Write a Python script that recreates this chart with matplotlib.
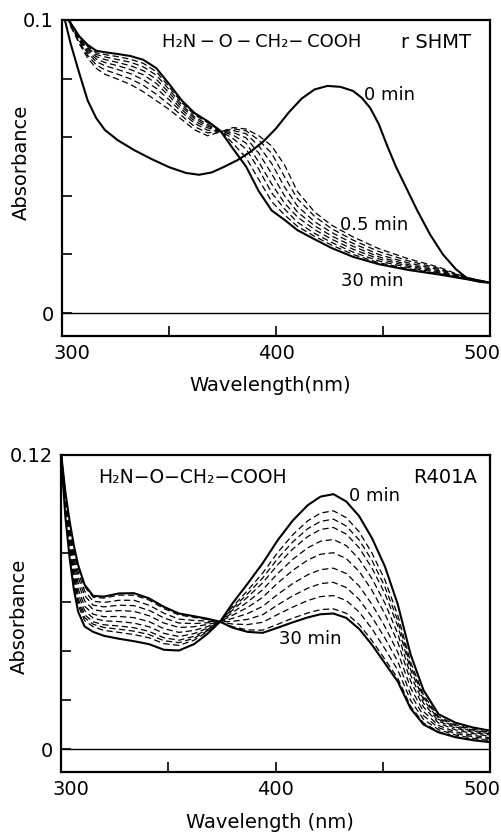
import matplotlib.pyplot as plt
from matplotlib.transforms import ScaledTranslation

plt.rcParams['font.family'] = ['DejaVu Sans']

# ---- upper panel: r SHMT (wavelength grid in nm) ----
top_wl = [301, 304, 308, 312, 316, 320, 326, 332, 338, 344, 350, 356, 362, 368, 374,
          380, 386, 392, 398, 404, 410, 418, 426, 436, 448, 462, 476, 488, 499]

# 0 min spectrum has its own grid
top_wl_0 = [301, 304, 308, 312, 316, 320, 326, 334, 342, 350, 358, 364, 370, 376, 382,
            388, 394, 400, 406, 412, 418, 424, 430, 436, 440, 444, 448, 452, 456, 460,
            466, 472, 478, 484, 490, 495, 499]
top_0min = [0.101, 0.092, 0.082, 0.0725, 0.0665, 0.0625, 0.0590, 0.0555, 0.0525, 0.0498,
            0.0478, 0.0472, 0.0480, 0.0500, 0.0522, 0.0550, 0.0585, 0.0630, 0.0685, 0.0732,
            0.0763, 0.0775, 0.0772, 0.0758, 0.0735, 0.0700, 0.0645, 0.0570, 0.0500, 0.0440,
            0.0350, 0.0268, 0.0200, 0.0150, 0.0115, 0.0107, 0.0104]

top_30min = [0.106, 0.099, 0.0945, 0.0915, 0.0895, 0.0890, 0.0884, 0.0877, 0.0864, 0.0836,
             0.0782, 0.0725, 0.0682, 0.0655, 0.0622, 0.0560, 0.0500, 0.0415, 0.0350, 0.0318,
             0.0283, 0.0252, 0.0222, 0.0192, 0.0167, 0.0147, 0.0132, 0.0117, 0.0105]

# dashed traces, 0.5 min first
top_dashed = [
    [0.104, 0.098, 0.092, 0.087, 0.0835, 0.0815, 0.0798, 0.0780, 0.0755, 0.0725,
     0.0695, 0.0660, 0.0625, 0.0605, 0.0618, 0.0633, 0.0628, 0.0605, 0.0570, 0.0505,
     0.0415, 0.0345, 0.0300, 0.0260, 0.0220, 0.0185, 0.0157, 0.0124, 0.0106],
    [0.104, 0.098, 0.0925, 0.0879, 0.0847, 0.0830, 0.0815, 0.0799, 0.0777, 0.0747,
     0.0712, 0.0673, 0.0636, 0.0615, 0.0619, 0.0629, 0.0622, 0.0590, 0.0545, 0.0465,
     0.0390, 0.0330, 0.0288, 0.0249, 0.0210, 0.0178, 0.0153, 0.0123, 0.0106],
    [0.105, 0.098, 0.0930, 0.0887, 0.0858, 0.0844, 0.0831, 0.0817, 0.0796, 0.0767,
     0.0728, 0.0685, 0.0647, 0.0624, 0.0620, 0.0623, 0.0612, 0.0570, 0.0510, 0.0430,
     0.0365, 0.0312, 0.0275, 0.0238, 0.0200, 0.0171, 0.0149, 0.0122, 0.0106],
    [0.105, 0.099, 0.0933, 0.0894, 0.0867, 0.0855, 0.0844, 0.0831, 0.0813, 0.0784,
     0.0741, 0.0694, 0.0655, 0.0632, 0.0620, 0.0616, 0.0598, 0.0545, 0.0475, 0.0400,
     0.0345, 0.0298, 0.0263, 0.0228, 0.0192, 0.0165, 0.0145, 0.0121, 0.0106],
    [0.105, 0.099, 0.0936, 0.0900, 0.0875, 0.0865, 0.0855, 0.0844, 0.0827, 0.0798,
     0.0752, 0.0703, 0.0663, 0.0638, 0.0621, 0.0607, 0.0580, 0.0515, 0.0440, 0.0375,
     0.0328, 0.0285, 0.0252, 0.0218, 0.0185, 0.0160, 0.0141, 0.0120, 0.0105],
    [0.105, 0.099, 0.0939, 0.0905, 0.0882, 0.0874, 0.0865, 0.0856, 0.0840, 0.0812,
     0.0763, 0.0711, 0.0669, 0.0644, 0.0621, 0.0595, 0.0560, 0.0490, 0.0410, 0.0355,
     0.0310, 0.0272, 0.0241, 0.0208, 0.0178, 0.0155, 0.0138, 0.0119, 0.0105],
    [0.106, 0.099, 0.0942, 0.0910, 0.0888, 0.0882, 0.0875, 0.0866, 0.0852, 0.0824,
     0.0772, 0.0718, 0.0676, 0.0650, 0.0622, 0.0578, 0.0530, 0.0455, 0.0380, 0.0335,
     0.0296, 0.0262, 0.0232, 0.0200, 0.0172, 0.0151, 0.0135, 0.0118, 0.0105],
]

# ---- lower panel: R401A ----
bot_wl = [300, 302, 304, 306, 308, 311, 315, 320, 327, 334, 341, 348, 355, 362, 368,
          374, 380, 387, 394, 401, 408, 415, 421, 427, 433, 439, 445, 451, 457, 463,
          469, 476, 484, 492, 500]

bot_0min = [0.121, 0.095, 0.078, 0.065, 0.056, 0.0500, 0.0478, 0.0462, 0.0450, 0.0440,
            0.0428, 0.0405, 0.0402, 0.0428, 0.0468, 0.0518, 0.0595, 0.0675, 0.0758, 0.0852,
            0.0932, 0.0995, 0.1030, 0.1040, 0.1010, 0.0950, 0.0860, 0.0745, 0.0590, 0.0385,
            0.0240, 0.0142, 0.0107, 0.0088, 0.0075]

bot_30min = [0.121, 0.105, 0.093, 0.083, 0.075, 0.067, 0.0625, 0.0622, 0.0635, 0.0636,
             0.0615, 0.0580, 0.0553, 0.0542, 0.0532, 0.0520, 0.0495, 0.0478, 0.0474, 0.0495,
             0.0517, 0.0537, 0.0550, 0.0553, 0.0535, 0.0490, 0.0425, 0.0350, 0.0275, 0.0165,
             0.0100, 0.0068, 0.0048, 0.0036, 0.0028]

bot_dashed = [
    [0.121, 0.0964, 0.0801, 0.0675, 0.0587, 0.0524, 0.0499, 0.0484, 0.0476, 0.0467,
     0.0454, 0.0430, 0.0423, 0.0444, 0.0477, 0.0519, 0.0581, 0.0647, 0.0718, 0.0802,
     0.0874, 0.0931, 0.0963, 0.0972, 0.0944, 0.0886, 0.0799, 0.0690, 0.0546, 0.0354,
     0.0220, 0.0132, 0.0099, 0.0081, 0.0068],
    [0.121, 0.0971, 0.0812, 0.0688, 0.0600, 0.0536, 0.0509, 0.0496, 0.0489, 0.0481,
     0.0467, 0.0442, 0.0434, 0.0452, 0.0481, 0.0519, 0.0574, 0.0634, 0.0698, 0.0777,
     0.0845, 0.0899, 0.0929, 0.0938, 0.0910, 0.0853, 0.0769, 0.0662, 0.0524, 0.0339,
     0.0211, 0.0126, 0.0095, 0.0077, 0.0065],
    [0.121, 0.0978, 0.0822, 0.0700, 0.0613, 0.0548, 0.0519, 0.0507, 0.0502, 0.0495,
     0.0480, 0.0454, 0.0444, 0.0460, 0.0486, 0.0519, 0.0567, 0.0620, 0.0678, 0.0752,
     0.0816, 0.0867, 0.0896, 0.0904, 0.0877, 0.0821, 0.0738, 0.0634, 0.0502, 0.0323,
     0.0201, 0.0121, 0.0090, 0.0073, 0.0062],
    [0.121, 0.0988, 0.0837, 0.0718, 0.0632, 0.0565, 0.0534, 0.0523, 0.0520, 0.0514,
     0.0499, 0.0472, 0.0459, 0.0471, 0.0492, 0.0519, 0.0557, 0.0600, 0.0650, 0.0716,
     0.0774, 0.0821, 0.0848, 0.0855, 0.0830, 0.0775, 0.0695, 0.0595, 0.0470, 0.0301,
     0.0187, 0.0114, 0.0085, 0.0068, 0.0057],
    [0.121, 0.0999, 0.0854, 0.0738, 0.0653, 0.0583, 0.0550, 0.0540, 0.0541, 0.0536,
     0.0520, 0.0491, 0.0476, 0.0484, 0.0499, 0.0519, 0.0546, 0.0578, 0.0619, 0.0677,
     0.0729, 0.0771, 0.0795, 0.0801, 0.0777, 0.0725, 0.0647, 0.0551, 0.0436, 0.0277,
     0.0171, 0.0106, 0.0078, 0.0063, 0.0052],
    [0.121, 0.1012, 0.0873, 0.0762, 0.0678, 0.0605, 0.0569, 0.0561, 0.0565, 0.0562,
     0.0544, 0.0514, 0.0496, 0.0499, 0.0508, 0.0519, 0.0533, 0.0553, 0.0582, 0.0631,
     0.0675, 0.0711, 0.0732, 0.0738, 0.0716, 0.0665, 0.0590, 0.0500, 0.0395, 0.0249,
     0.0153, 0.0096, 0.0070, 0.0056, 0.0046],
    [0.121, 0.1024, 0.0891, 0.0783, 0.0701, 0.0626, 0.0587, 0.0580, 0.0587, 0.0585,
     0.0566, 0.0535, 0.0514, 0.0512, 0.0515, 0.0519, 0.0521, 0.0529, 0.0548, 0.0588,
     0.0625, 0.0656, 0.0675, 0.0680, 0.0659, 0.0610, 0.0538, 0.0453, 0.0357, 0.0222,
     0.0136, 0.0087, 0.0063, 0.0050, 0.0040],
    [0.121, 0.1035, 0.0908, 0.0803, 0.0722, 0.0645, 0.0603, 0.0598, 0.0607, 0.0607,
     0.0587, 0.0554, 0.0530, 0.0525, 0.0522, 0.0519, 0.0510, 0.0508, 0.0517, 0.0549,
     0.0579, 0.0606, 0.0622, 0.0626, 0.0606, 0.0559, 0.0490, 0.0409, 0.0322, 0.0198,
     0.0121, 0.0079, 0.0057, 0.0044, 0.0035],
    [0.121, 0.1046, 0.0924, 0.0823, 0.0742, 0.0663, 0.0619, 0.0616, 0.0628, 0.0628,
     0.0608, 0.0573, 0.0547, 0.0537, 0.0529, 0.0519, 0.0499, 0.0486, 0.0485, 0.0509,
     0.0534, 0.0555, 0.0569, 0.0572, 0.0554, 0.0508, 0.0442, 0.0366, 0.0288, 0.0174,
     0.0106, 0.0071, 0.0050, 0.0038, 0.0030],
]

x_ticks = [300, 350, 400, 450, 500]
x_ticklabels = ['300', '', '400', '', '500']
compound = 'H\u2082N\u2009\u2212\u2009O\u2009\u2212\u2009CH\u2082\u2212\u2009COOH'
compound_tight = 'H\u2082N\u2212O\u2212CH\u2082\u2212COOH'

FS = 14


# Common frame: box, inward ticks, zero line
def style_axes(fig, ax, ymax, yticks, ytop_label, xlabel, ylabel_y):
    ax.set_xlim(300, 500)
    ax.set_ylim(-ymax * 0.078, ymax)
    ax.axhline(0, color='black', lw=1.0)
    ax.set_xticks(x_ticks)
    ax.set_xticklabels(x_ticklabels)
    ax.set_yticks(yticks)
    ax.set_yticklabels(['0'] + [''] * (len(yticks) - 2) + [ytop_label])
    ax.tick_params(direction='in', length=7, width=1.2, labelsize=FS, pad=6,
                   top=False, right=False)
    for sp in ax.spines.values():
        sp.set_linewidth(1.6)
    ax.set_xlabel(xlabel, fontsize=FS)
    ax.set_ylabel('Absorbance', fontsize=FS)
    ax.xaxis.set_label_coords(0.487, -0.128)
    ax.yaxis.set_label_coords(-0.074, ylabel_y)
    # nudge the edge tick labels inwards like the original
    labels = ax.get_xticklabels()
    labels[0].set_transform(labels[0].get_transform() + ScaledTranslation(0.1, 0, fig.dpi_scale_trans))
    labels[-1].set_transform(labels[-1].get_transform() + ScaledTranslation(-0.08, 0, fig.dpi_scale_trans))


def plot_family(ax, wl, solids, dashed):
    for ys in dashed:
        ax.plot(wl, ys, color='black', lw=0.9, dashes=(5, 2.8))
    for w, ys in solids:
        ax.plot(w, ys, color='black', lw=1.5)


fig = plt.figure(figsize=(5.01, 8.36), dpi=100)

# upper panel
ax1 = fig.add_axes([0.1238, 0.5981, 0.8543, 0.3780])
plot_family(ax1, top_wl, [(top_wl_0, top_0min), (top_wl, top_30min)], top_dashed)
style_axes(fig, ax1, 0.1, [0, 0.02, 0.04, 0.06, 0.08, 0.1], '0.1', 'Wavelength(nm)', 0.55)
ax1.text(0.467, 0.93, compound, transform=ax1.transAxes, fontsize=13, ha='center', va='center')
ax1.text(0.955, 0.93, 'r SHMT', transform=ax1.transAxes, fontsize=FS, ha='right', va='center')
ax1.text(453, 0.0744, '0 min', fontsize=13, ha='center', va='center')
ax1.text(446, 0.0301, '0.5 min', fontsize=13, ha='center', va='center')
ax1.text(445, 0.0111, '30 min', fontsize=13, ha='center', va='center')

# lower panel
ax2 = fig.add_axes([0.1218, 0.0766, 0.8563, 0.3792])
plot_family(ax2, bot_wl, [(bot_wl, bot_0min), (bot_wl, bot_30min)], bot_dashed)
style_axes(fig, ax2, 0.12, [0, 0.02, 0.04, 0.06, 0.08, 0.12], '0.12', 'Wavelength (nm)', 0.49)
ax2.text(0.306, 0.93, compound_tight, transform=ax2.transAxes, fontsize=13.5, ha='center', va='center')
ax2.text(0.97, 0.93, 'R401A', transform=ax2.transAxes, fontsize=FS, ha='right', va='center')
ax2.text(446, 0.1033, '0 min', fontsize=13, ha='center', va='center')
ax2.text(416, 0.0448, '30 min', fontsize=13, ha='center', va='center')

fig.savefig('out.png', dpi=100)
